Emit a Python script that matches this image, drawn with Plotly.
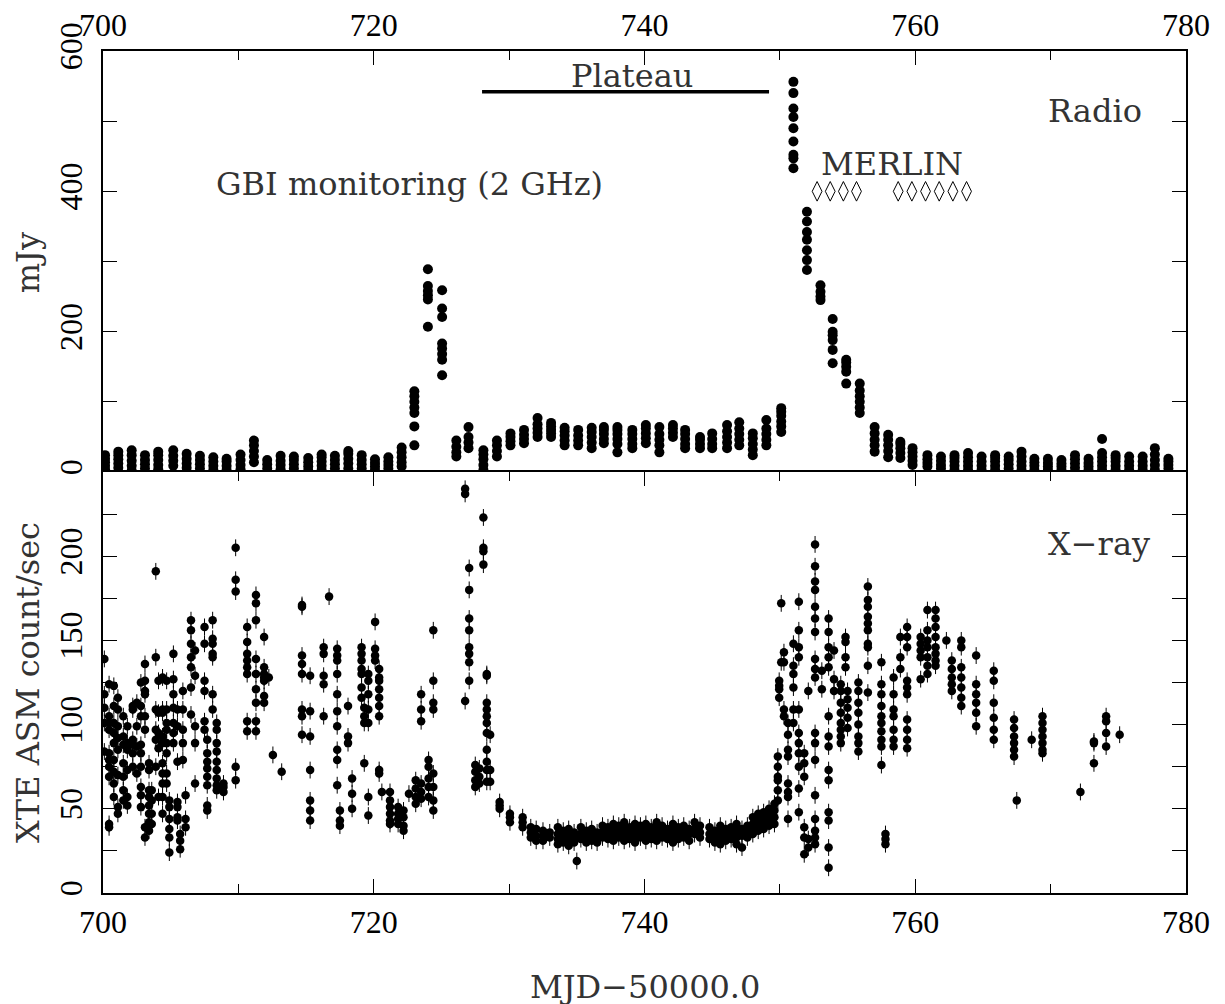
import plotly.graph_objects as go

# ---------------- Radio (GBI 2 GHz) : clusters (MJD-50000, [mJy values]) ----------------
radio_days = [700.15, 701.13, 702.12, 703.1, 704.08, 705.19, 706.18, 707.16, 708.15, 709.13,
              710.16, 711.15, 712.13, 713.12, 714.1, 715.16, 716.15, 717.13, 718.12, 719.11,
              720.09, 721.08, 722.06, 723.0, 724.0, 725.05, 726.1, 727.0, 728.1, 729.1,
              730.1, 731.1, 732.1, 733.1, 734.1, 735.1, 736.1, 737.0, 738.0, 739.1,
              740.1, 741.1, 742.1, 743.0, 744.1, 745.0, 746.1, 747.0, 748.0, 749.0,
              750.1, 751.0, 752.0, 753.0, 753.9, 754.9, 755.9, 757.0, 758.0, 758.9,
              759.8, 760.9, 761.9, 762.9, 763.9, 764.9, 765.9, 766.9, 767.85, 768.8,
              769.8, 770.8, 771.8, 772.8, 773.8, 774.8, 775.8, 776.8, 777.7, 778.7]
radio_vals = [
    [4, 9, 14, 19, 24], [6, 12, 18, 24, 29], [2, 9, 16, 24, 31], [5, 11, 17, 24], [4, 10, 17, 24, 29],
    [9, 16, 23, 31], [6, 12, 19, 26], [5, 11, 17, 23], [3, 9, 15, 21], [3, 9, 15, 19],
    [4, 10, 17, 25], [14, 22, 30, 38, 45], [5, 11, 17], [4, 10, 16, 23], [5, 11, 17, 22],
    [2, 8, 14, 20], [3, 9, 15, 21, 25], [5, 11, 17, 23], [5, 12, 19, 26, 30], [5, 11, 17, 24],
    [3, 8, 13, 18], [5, 10, 15, 21], [8, 14, 21, 28, 35], [38, 65, 84, 92, 100, 108, 115],
    [207, 246, 252, 258, 265, 289], [138, 160, 168, 176, 183, 221, 233, 259],
    [22, 28, 36, 45], [34, 42, 50, 64], [3, 10, 18, 25, 31], [22, 30, 38, 45],
    [38, 44, 50, 55], [41, 47, 53, 60], [50, 56, 62, 68, 77], [50, 55, 60, 65, 70],
    [38, 45, 52, 58, 63], [38, 45, 52, 60], [34, 42, 50, 57, 63], [41, 47, 54, 60, 64],
    [28, 40, 47, 54, 60, 64], [34, 40, 47, 54, 60], [41, 48, 55, 62, 67], [28, 38, 46, 54, 64],
    [50, 56, 62, 67], [34, 40, 47, 54, 60], [34, 40, 46, 50], [34, 40, 47, 55],
    [34, 42, 50, 58, 67], [38, 46, 54, 62, 71], [24, 32, 40, 48, 55], [38, 46, 54, 62, 74],
    [57, 65, 72, 80, 86, 91], [433, 447, 452, 471, 490, 506, 518, 540, 556],
    [288, 302, 316, 331, 342, 357, 371], [245, 250, 257, 266], [155, 174, 188, 195, 200, 218],
    [126, 143, 150, 156, 160], [84, 92, 100, 108, 116, 126], [29, 38, 46, 55, 64],
    [21, 30, 38, 46, 53], [20, 27, 34, 40, 43], [10, 16, 22, 28, 34], [8, 13, 18, 24],
    [5, 10, 16, 22], [3, 9, 15, 20, 24], [3, 9, 15, 21, 27], [3, 9, 15, 22], [3, 9, 15, 20, 24],
    [5, 11, 17, 22], [3, 9, 15, 22, 29], [3, 9, 14, 19], [3, 8, 13, 19], [3, 8, 12, 17],
    [0, 6, 12, 18, 24], [3, 8, 13, 19], [3, 9, 15, 21, 27, 47], [3, 9, 15, 20, 24],
    [3, 9, 15, 22], [3, 9, 15, 22], [3, 10, 17, 25, 34], [5, 10, 15, 19]]

# ---------------- X-ray (XTE ASM) : clusters (MJD-50000, [count/sec values]) ----------------
xray_days = [700.1, 700.45, 700.8, 701.1, 701.5, 701.8, 702.2, 702.5, 702.8, 703.1,
             703.4, 703.6, 703.9, 704.1, 704.4, 704.7, 704.9, 705.2, 705.5, 705.7,
             705.9, 706.1, 706.5, 706.8, 707.5, 707.7, 708.1, 708.4, 708.9, 709.8,
             710.65, 711.3, 711.9, 712.25, 712.55, 713.2, 714.7, 715.3, 716.3, 716.7,
             717.3, 717.5, 718.1, 718.4, 719.1, 719.3, 719.6, 720.1, 720.4, 720.6,
             721.2, 721.8, 722.2, 722.6, 723.1, 723.5, 724.05, 724.4, 726.75, 727.05,
             727.5, 727.8, 728.1, 728.35, 728.6, 729.3, 730.06, 731.0,
             731.6, 732.0, 732.5, 733.0, 733.6, 734.0, 734.4, 734.8, 735.0, 735.3,
             735.7, 736.1, 736.5, 736.9, 737.3, 737.7, 738.1, 738.5, 738.9, 739.3,
             739.7, 740.1, 740.5, 740.9, 741.3, 741.7, 742.1, 742.5, 742.9, 743.3,
             743.7, 744.1, 744.8, 745.2, 745.6, 746.0, 746.4, 746.8, 747.2, 747.6,
             748.0, 748.4, 748.8, 749.2, 749.6, 749.85, 749.95, 750.1, 750.3, 750.6,
             751.0, 751.4, 751.8, 752.1, 752.6, 753.1, 753.6, 754.0, 754.5, 754.85,
             755.0, 755.8, 756.5, 757.5, 757.8, 758.4, 758.9, 759.4, 760.4, 760.9,
             761.5, 762.3, 762.7, 763.4, 764.5, 765.8, 767.3, 767.5, 768.6, 769.4,
             772.2, 773.2, 774.1, 775.1]
xray_vals = [
    [139, 118, 110, 101, 84], [124, 105, 101, 97, 83, 79, 75, 69, 41, 39],
    [123, 111, 101, 95, 89, 79, 72, 65, 57], [116, 109, 99, 92, 85, 70, 51, 47],
    [105, 93, 88, 77, 69, 61, 55], [99, 89, 85, 73, 57, 52], [111, 109, 91, 88, 83, 75],
    [113, 99, 87, 71], [125, 111, 105, 88, 83, 75, 63, 58, 51], [136, 126, 120, 118, 105, 97, 39, 33],
    [77, 73, 61, 57, 52, 47, 42, 37], [61, 55, 47, 41], [191, 140, 109, 97, 91, 75],
    [126, 107, 95, 86, 57], [128, 109, 107, 93, 89, 77, 71, 65, 57, 47],
    [126, 109, 101, 97, 89, 83, 71, 65], [55, 51, 44, 38, 33, 24], [142, 127, 118, 110, 101, 95, 89],
    [109, 99, 78, 54, 51, 45, 43], [35, 31, 26], [120, 109, 97, 89, 79], [58, 44, 39],
    [162, 156, 148, 140, 134, 122, 106], [144, 129, 99, 89, 65], [158, 148, 126, 120, 102, 97],
    [91, 83, 78, 74, 69, 64, 52, 49], [162, 151, 148, 142, 140, 118, 109],
    [101, 97, 89, 84, 78, 73, 68, 64, 61], [65, 63, 60], [205, 186, 179, 75, 67],
    [158, 149, 142, 138, 134, 130, 102, 96], [177, 172, 162, 139, 130, 121, 113, 102, 96],
    [152, 134, 130, 128, 126, 117, 113], [128], [82], [72],
    [171, 170, 141, 136, 130, 109, 105, 94], [129, 108, 93, 73, 55, 49, 43],
    [146, 142, 129, 124, 105], [176], [145, 141, 138, 130, 118, 108, 99, 85, 79, 64],
    [49, 43, 40], [111, 93, 89], [68, 59, 50], [146, 142, 138, 133, 130, 122, 116],
    [110, 105, 101, 77], [130, 126, 118, 109, 101, 57, 46], [161, 145, 141, 138],
    [133, 128, 126, 121, 116, 111, 105, 73, 71], [60], [60, 55, 51, 47, 43, 41],
    [51, 47, 44, 41], [49, 45, 40, 37], [59], [67, 62, 57, 53], [118, 109, 102, 65, 60, 56],
    [79, 75, 68, 63, 57], [156, 126, 113, 109, 71, 63, 55, 49], [240, 237, 114],
    [193, 180, 163, 156, 146, 142, 137, 126], [76, 72, 67, 63], [74, 69, 65],
    [223, 205, 203, 195], [130, 129, 113, 109, 105, 101, 95, 85, 78, 73, 66], [94, 73, 66],
    [54, 52, 50], [47, 45, 42], [45, 42, 39],
    [39, 36, 33], [38, 34, 31], [37, 34, 31], [36, 33], [39, 35, 32, 29], [37, 33, 30],
    [38, 35, 31, 28], [36, 33, 30], [19], [39, 35, 32], [37, 33, 30], [38, 35, 31],
    [36, 33, 30], [40, 36, 33], [39, 35, 32], [41, 38, 34, 31], [40, 37, 33],
    [42, 38, 35, 31], [39, 36, 32], [41, 37, 34, 30], [40, 36, 33], [41, 38, 34, 31],
    [39, 36, 32], [42, 38, 35, 31], [40, 36, 33], [38, 35, 32], [41, 37, 34, 30],
    [39, 36, 32], [40, 37, 33], [38, 35, 31], [42, 38, 35], [40, 36, 33], [39, 35, 32],
    [37, 34, 30], [40, 36, 33, 29], [38, 35, 31], [39, 36, 32], [41, 37, 33, 29],
    [38, 34, 27], [40, 37, 33], [45, 41, 38, 35], [47, 43, 40, 37], [48, 45, 41, 38],
    [50, 46, 43, 40], [53, 49, 45, 41], [81, 75, 69, 67, 61, 55], [126, 123, 121, 116],
    [172, 137], [143, 137, 109, 105], [101, 94, 85, 81, 65, 60, 57, 44],
    [148, 135, 130, 122, 109, 101], [173, 156, 146, 140, 109, 95, 89, 83, 75, 62, 48],
    [83, 77, 69, 39, 33, 23], [120, 32, 27],
    [207, 194, 185, 180, 170, 163, 155, 139, 133, 128, 95, 89, 79, 58, 44, 37, 33, 29],
    [132, 121], [163, 155, 146, 140, 134, 105, 93, 87, 73, 67, 48, 43, 27, 15],
    [144, 127, 120], [124, 120, 113, 107, 101, 97, 93, 89], [152, 149, 140, 134],
    [120, 115, 110, 104, 98], [125, 120, 113, 107, 100, 93, 89, 84],
    [182, 174, 170, 164, 160, 156, 148, 146, 135, 119],
    [137, 124, 118, 111, 105, 101, 96, 91, 87, 76], [35, 32, 29],
    [128, 118, 109, 105, 97, 91, 87], [152, 140, 133],
    [158, 152, 146, 126, 122, 118, 103, 97, 91, 86], [152, 148, 144, 140, 127],
    [168, 156, 150, 146, 140, 135, 130], [168, 163, 158, 152, 146, 142, 138, 135], [150],
    [138, 133, 128, 124, 120], [150, 146, 134, 128, 122, 116, 111],
    [141, 124, 118, 113, 107, 99], [132, 126, 113, 104, 97, 91], [103, 98, 93, 89, 85, 81],
    [55], [91], [105, 101, 97, 93, 89, 85, 83], [60], [90, 89, 77], [105, 102, 95, 87], [94]]
xray_err = 5  # typical ASM 1-sigma error (count/sec)

# MERLIN observation epochs and the plateau interval
merlin_days = [752.75, 753.72, 754.69, 755.66, 758.74, 759.75, 760.76, 761.77, 762.78, 763.79]
merlin_level = 400
plateau_start, plateau_end, plateau_level = 728.0, 749.2, 542

radio_x = [d for d, vs in zip(radio_days, radio_vals) for _ in vs]
radio_y = [v for vs in radio_vals for v in vs]
xray_x = [d for d, vs in zip(xray_days, xray_vals) for _ in vs]
xray_y = [v for vs in xray_vals for v in vs]

TICKFONT = dict(family="Liberation Serif", size=32, color="black")
TXTFONT = dict(family="DejaVu Serif", size=32, color="#333")

fig = go.Figure()
fig.add_trace(go.Scatter(x=radio_x, y=radio_y, mode="markers", xaxis="x2", yaxis="y2",
                         marker=dict(color="black", size=10), showlegend=False))
fig.add_trace(go.Scatter(x=xray_x, y=xray_y, mode="markers", xaxis="x", yaxis="y",
                         marker=dict(color="black", size=8.5),
                         error_y=dict(type="constant", value=xray_err, color="black",
                                      thickness=1, width=0),
                         showlegend=False))
fig.add_trace(go.Scatter(x=[plateau_start, plateau_end], y=[plateau_level, plateau_level],
                         mode="lines", xaxis="x2", yaxis="y2",
                         line=dict(color="black", width=3.5), showlegend=False))
fig.add_trace(go.Scatter(x=merlin_days, y=[merlin_level] * len(merlin_days), mode="markers",
                         xaxis="x2", yaxis="y2",
                         marker=dict(symbol="diamond-tall-open", size=14, color="black",
                                     line=dict(width=1, color="black")),
                         showlegend=False))

axis_common = dict(showline=True, linecolor="black", linewidth=1.5,
                   ticks="inside", tickcolor="black", tickwidth=1.2, showgrid=False,
                   zeroline=False, tickfont=TICKFONT, automargin=False)

xticks = [700, 720, 740, 760, 780]
fig.update_layout(
    width=1225, height=1004,
    margin=dict(l=95, r=47, t=43, b=119),
    paper_bgcolor="white", plot_bgcolor="white",
    xaxis=dict(domain=[0, 1], range=[700, 780], anchor="y", side="bottom", mirror="ticks",
               tickvals=xticks, ticktext=[str(v) for v in xticks], ticklen=14,
               minor=dict(dtick=10, tick0=700, ticklen=9, ticks="inside", tickcolor="black"),
               **axis_common),
    xaxis2=dict(domain=[0, 1], range=[700, 780], anchor="y2", side="top", matches="x",
                mirror=False,
                tickvals=xticks, ticktext=[str(v) for v in xticks], ticklen=14,
                minor=dict(dtick=10, tick0=700, ticklen=9, ticks="inside", tickcolor="black"),
                **axis_common),
    yaxis=dict(domain=[0, 0.5], range=[0, 250], anchor="x", mirror="ticks",
               tickvals=[0, 25, 50, 75, 100, 125, 150, 175, 200, 225],
               ticktext=["0", "", "50", "", "100", "", "150", "", "200", ""],
               ticklen=14, tickangle=-90, ticklabelstandoff=6, **axis_common),
    yaxis2=dict(domain=[0.5, 1], range=[0, 600], anchor="x2", mirror="ticks",
                tickvals=[0, 100, 200, 300, 400, 500, 600],
                ticktext=["0", "", "200", "", "400", "", "600"],
                ticklen=14, tickangle=-90, ticklabelstandoff=6, **axis_common),
)

ann = [
    dict(text="GBI monitoring (2 GHz)", x=722.67, y=410, xref="x2", yref="y2"),
    dict(text="Plateau", x=739.05, y=564, xref="x2", yref="y2"),
    dict(text="Radio", x=773.3, y=514, xref="x2", yref="y2"),
    dict(text="MERLIN", x=758.25, y=439, xref="x2", yref="y2"),
    dict(text="X−ray", x=773.6, y=207, xref="x", yref="y"),
    dict(text="mJy", x=-0.0693, y=0.749, xref="paper", yref="paper", textangle=-90),
    dict(text="XTE ASM count/sec", x=-0.0693, y=0.2506, xref="paper", yref="paper", textangle=-90),
    dict(text="MJD−50000.0", x=0.5, y=-0.112, xref="paper", yref="paper"),
]
for a in ann:
    fig.add_annotation(showarrow=False, font=TXTFONT, xanchor="center", yanchor="middle", **a)

fig.write_html("out.html")
